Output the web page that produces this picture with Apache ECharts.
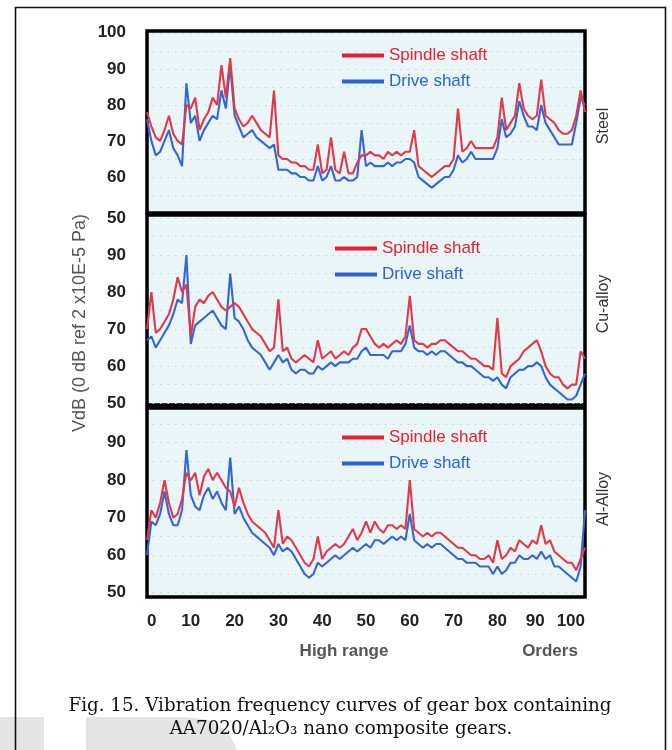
<!DOCTYPE html>
<html>
<head>
<meta charset="utf-8">
<script src="https://cdn.jsdelivr.net/npm/echarts@6/dist/echarts.min.js"></script>
<style>
html,body{margin:0;padding:0;background:#fff;}
#chart{width:672px;height:750px;}
</style>
</head>
<body>
<div id="chart"></div>
<script>
// ---------- data ----------
const orders = [0,1,2,3,4,5,6,7,8,9,10,11,12,13,14,15,16,17,18,19,20,21,22,23,24,25,26,27,28,29,30,31,32,33,34,35,36,37,38,39,40,41,42,43,44,45,46,47,48,49,50,51,52,53,54,55,56,57,58,59,60,61,62,63,64,65,66,67,68,69,70,71,72,73,74,75,76,77,78,79,80,81,82,83,84,85,86,87,88,89,90,91,92,93,94,95,96,97,98,99,100];

const steelSpindle = [78,74,71,70,73,77,72,70,69,80, 79,82,73,76,78,82,80,91,82,93, 79,76,74,75,77,75,73,72,71,84, 66,65,65,64,64,63,63,62,62,69, 61,62,71,62,61,67,61,61,64,66, 66,67,66,66,65,67,66,67,66,67, 67,73,63,62,61,60,61,62,63,63, 65,79,67,68,70,68,68,68,68,68, 71,82,73,75,77,86,79,77,76,77, 87,77,76,75,73,72,72,73,77,84, 78];
const steelDrive   = [76,70,66,67,70,73,68,66,63,86, 75,77,70,73,75,77,76,84,79,91, 77,74,71,72,73,71,70,69,68,69, 62,62,62,61,61,60,60,59,59,63, 59,60,63,59,59,60,59,59,60,73, 63,64,63,63,63,64,63,64,64,65, 65,64,60,59,58,57,58,59,60,60, 62,66,64,65,67,65,65,65,65,65, 68,76,71,72,74,81,77,74,74,73, 80,75,73,71,69,69,69,69,75,82, 80];

const cuSpindle = [70,80,69,70,72,74,78,84,80,82, 68,76,78,77,79,80,78,76,75,76, 77,76,74,72,70,69,68,66,64,65, 78,64,65,62,61,62,63,62,61,67, 62,63,64,62,63,64,63,65,66,70, 70,68,66,65,66,65,66,67,66,68, 79,67,66,66,65,66,66,67,67,66, 65,64,64,63,62,62,61,60,60,59, 73,58,57,60,61,62,64,65,66,67, 64,60,58,57,57,55,54,55,55,64, 62];
const cuDrive   = [67,68,65,67,69,71,74,78,77,90, 66,71,72,73,74,75,73,71,70,85, 73,72,70,67,65,64,63,61,59,61, 63,61,62,59,58,59,59,58,58,60, 59,60,61,60,61,61,61,62,62,64, 65,63,63,63,63,62,64,64,64,66, 71,65,64,64,63,64,63,64,64,63, 62,61,61,60,60,59,58,57,57,56, 57,55,54,57,58,59,59,60,60,61, 60,57,55,54,53,52,51,51,52,55, 58];

const alSpindle = [64,72,70,74,80,74,70,71,75,82, 80,82,76,81,83,80,82,80,78,77, 73,78,74,71,69,68,67,66,64,62, 72,63,65,64,62,60,58,57,59,65, 59,61,62,63,62,63,65,67,64,66, 69,66,69,67,66,68,68,67,68,67, 80,67,66,65,66,65,66,66,65,64, 63,62,62,61,60,60,59,59,60,58, 64,59,60,62,61,64,63,62,64,63, 68,63,64,61,60,59,58,58,56,59, 62];
const alDrive   = [60,69,68,71,77,71,68,68,72,88, 76,73,72,76,78,75,77,74,72,86, 71,73,70,68,66,65,64,63,62,60, 63,61,62,61,59,57,55,54,55,58, 57,58,59,60,59,60,61,62,61,62, 63,62,64,64,63,64,65,64,65,64, 71,64,63,62,63,62,63,63,62,61, 60,59,59,58,58,58,57,57,57,55, 57,55,56,58,58,60,59,59,60,59, 61,59,60,57,57,56,55,54,53,57, 72];

const xTickValues = [0,10,20,30,40,50,60,70,80,90,100];
const yTicksTop = [50,60,70,80,90,100];
const yTicksLower = [50,60,70,80,90];
const panelNames = ['Steel','Cu-alloy','Al-Alloy'];
const seriesNames = ['Spindle shaft','Drive shaft'];

// ---------- layout / style ----------
const RED = '#e2384c';
const BLUE = '#3566d2';
const LEG_RED = '#e5212f';
const LEG_BLUE = '#2d62d4';
const panels = [
  {top: 31,  height: 182, min: 50,    max: 100.5, ticks: yTicksTop,   sp: steelSpindle, dr: steelDrive, leg: {left: 337, top: 42}},
  {top: 215, height: 190, min: 49.5,  max: 100.8, ticks: yTicksLower, sp: cuSpindle,    dr: cuDrive,    leg: {left: 330, top: 235}},
  {top: 408, height: 189, min: 48.85, max: 99.25, ticks: yTicksLower, sp: alSpindle,    dr: alDrive,    leg: {left: 337, top: 424}}
];

const pairs = (ys) => orders.map((x, i) => [x, ys[i]]);

const grid = [], xAxis = [], yAxis = [], series = [], legend = [];
panels.forEach((p, i) => {
  grid.push({
    left: 147, width: 438, top: p.top, height: p.height,
    show: true, backgroundColor: '#e9f5f6', borderColor: '#000', borderWidth: 3.5
  });
  xAxis.push({
    type: 'value', gridIndex: i, min: 0, max: 100,
    axisLine: {show: false}, axisTick: {show: false}, splitLine: {show: false},
    axisLabel: {
      show: i === 2,
      customValues: xTickValues,
      fontFamily: 'Liberation Sans, Arial, sans-serif', fontWeight: 'bold', fontSize: 17, color: '#222',
      margin: 16, alignMinLabel: 'left', alignMaxLabel: 'right',
      formatter: (v) => v === 90 ? '{s|90}' : String(v),
      rich: {s: {padding: [0, 12, 0, 0], fontFamily: 'Liberation Sans, Arial, sans-serif', fontWeight: 'bold', fontSize: 17, color: '#222'}}
    }
  });
  yAxis.push({
    type: 'value', gridIndex: i, min: p.min, max: p.max, splitNumber: 10,
    axisLine: {show: false}, axisTick: {show: false},
    splitLine: {show: true, showMinLine: false, showMaxLine: false, lineStyle: {color: '#c3d6da', width: 1.2, type: [1.5, 6], dashOffset: 2}},
    axisLabel: {
      customValues: p.ticks,
      fontFamily: 'Liberation Sans, Arial, sans-serif', fontWeight: 'bold', fontSize: 17, color: '#222',
      margin: 21,
      formatter: (v) => (i === 0 && v === 50) ? '{d|50}' : String(v),
      rich: {d: {padding: [10, 0, 0, 0], fontFamily: 'Liberation Sans, Arial, sans-serif', fontWeight: 'bold', fontSize: 17, color: '#222'}}
    }
  });
  series.push({
    name: seriesNames[0], type: 'line', xAxisIndex: i, yAxisIndex: i,
    data: pairs(p.sp), symbol: 'none', showSymbol: false,
    lineStyle: {color: RED, width: 2.1}, itemStyle: {color: LEG_RED}, z: 3
  });
  series.push({
    name: seriesNames[1], type: 'line', xAxisIndex: i, yAxisIndex: i,
    data: pairs(p.dr), symbol: 'none', showSymbol: false,
    lineStyle: {color: BLUE, width: 2.1}, itemStyle: {color: LEG_BLUE}, z: 2
  });
  legend.push({
    left: p.leg.left, top: p.leg.top, orient: 'vertical',
    icon: 'rect', itemWidth: 42, itemHeight: 4, itemGap: 9,
    selectedMode: false,
    textStyle: {fontFamily: 'Liberation Sans, Arial, sans-serif', fontSize: 17},
    data: [
      {name: seriesNames[0], textStyle: {color: LEG_RED}},
      {name: seriesNames[1], textStyle: {color: LEG_BLUE}}
    ]
  });
});

const sideLabelY = [126, 304, 499];
const graphic = [
  // watermark blocks
  {type: 'rect', shape: {x: 0, y: 717, width: 44, height: 40}, style: {fill: '#e4e4e4'}, z: -1},
  {type: 'polygon', shape: {points: [[86,717],[185,717],[205,719],[220,726],[231,737],[238,752],[86,752]]}, style: {fill: '#e4e4e4'}, z: -1},
  // outer frame
  {type: 'rect', shape: {x: 15.5, y: 7.5, width: 650, height: 800}, style: {fill: 'none', stroke: '#111', lineWidth: 1.6}, z: 10},
  // y axis title
  {type: 'text', x: 80, y: 323, rotation: Math.PI / 2,
   style: {text: 'VdB (0 dB ref 2 x10E-5 Pa)', fill: '#555', font: '18px "Liberation Sans", Arial, sans-serif', textAlign: 'center', textVerticalAlign: 'middle'}},
  // x axis captions
  {type: 'text', x: 344, y: 651, style: {text: 'High range', fill: '#555', font: 'bold 17px "Liberation Sans", Arial, sans-serif', textAlign: 'center', textVerticalAlign: 'middle'}},
  {type: 'text', x: 550, y: 651, style: {text: 'Orders', fill: '#555', font: 'bold 17px "Liberation Sans", Arial, sans-serif', textAlign: 'center', textVerticalAlign: 'middle'}},
  // figure caption
  {type: 'text', x: 340, y: 706, style: {text: 'Fig. 15. Vibration frequency curves of gear box containing', fill: '#111', font: '18.3px "DejaVu Serif", serif', textAlign: 'center', textVerticalAlign: 'middle'}},
  {type: 'text', x: 341, y: 729, style: {text: 'AA7020/Al\u2082O\u2083 nano composite gears.', fill: '#111', font: '18.3px "DejaVu Serif", serif', textAlign: 'center', textVerticalAlign: 'middle'}}
];
panelNames.forEach((n, i) => {
  graphic.push({type: 'text', x: 604, y: sideLabelY[i], rotation: Math.PI / 2,
    style: {text: n, fill: '#333', font: '16px "Liberation Sans", Arial, sans-serif', textAlign: 'center', textVerticalAlign: 'middle'}});
});

const chart = echarts.init(document.getElementById('chart'), null, {renderer: 'canvas'});
chart.setOption({
  animation: false,
  backgroundColor: '#fff',
  grid, xAxis, yAxis, series, legend, graphic
});
</script>
</body>
</html>
